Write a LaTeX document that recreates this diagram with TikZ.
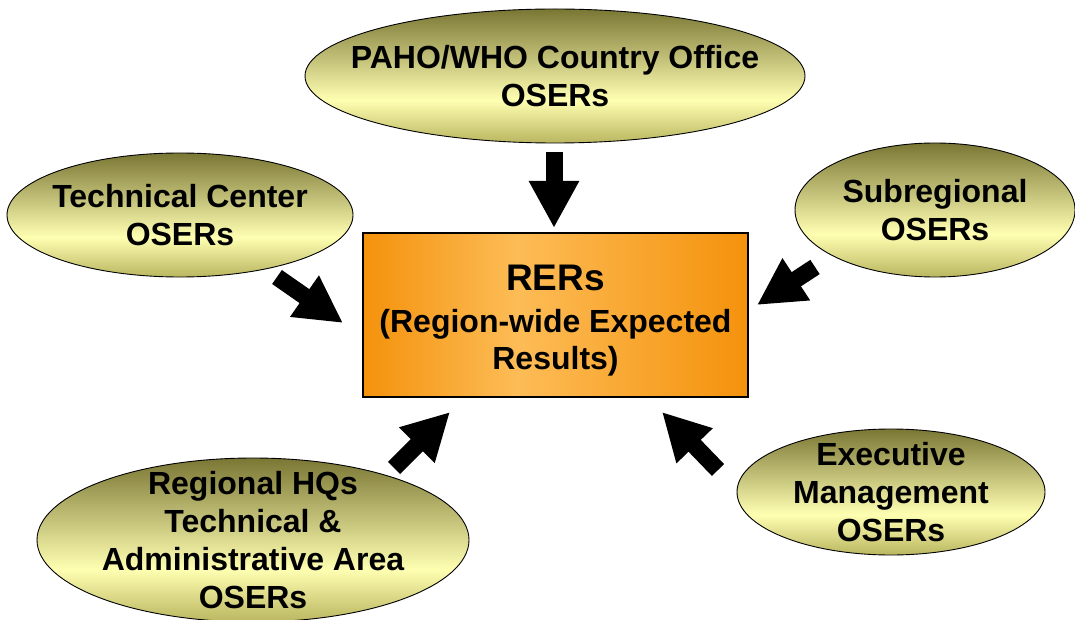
\documentclass[tikz,border=0pt]{standalone}
\usepackage{fontspec}
\setmainfont{Liberation Sans}
\usetikzlibrary{shapes.geometric,arrows.meta}

\definecolor{ostop}{RGB}{122,118,52}
\definecolor{oslight}{RGB}{255,255,178}
\definecolor{osbot}{RGB}{186,182,96}
\definecolor{rerdark}{RGB}{244,146,12}
\definecolor{rerlight}{RGB}{253,188,86}

\pgfdeclareverticalshading{oservert}{100bp}{color(0bp)=(osbot); color(25bp)=(osbot); color(41bp)=(oslight); color(75bp)=(ostop); color(100bp)=(ostop)}
\pgfdeclarehorizontalshading{rerhoriz}{100bp}{color(0bp)=(rerdark); color(25bp)=(rerdark); color(45bp)=(rerlight); color(75bp)=(rerdark); color(100bp)=(rerdark)}

\tikzset{
  oser/.style={ellipse, draw, line width=0.9pt, shading=oservert, inner sep=0pt},
  osertext/.style={align=center, font=\bfseries\fontsize{32}{38}\selectfont},
  blockarrow/.style={line width=17pt, -{Triangle[length=47pt,width=47pt]}}
}

\begin{document}
\begin{tikzpicture}[x=1pt, y=-1pt]
 \useasboundingbox (0,0) rectangle (1075,620);

 %central box
 \node[draw, line width=1.6pt, shading=rerhoriz, minimum width=385pt, minimum height=164pt,
       align=center, font=\bfseries\fontsize{32}{37}\selectfont] (rer) at (555.5,315)
       {{\fontsize{37}{42}\selectfont\rule{0pt}{37pt}RERs}\\[5pt](Region-wide Expected\\Results)};

 %ellipses
 \node[oser, minimum width=500pt, minimum height=134pt, label={[osertext]center:{PAHO/WHO Country Office\\OSERs}}] (pah) at (555,76) {};
 \node[oser, minimum width=346pt, minimum height=124pt, label={[osertext]center:{Technical Center\\OSERs}}] (tech) at (180,215) {};
 \node[oser, minimum width=280pt, minimum height=134pt, label={[osertext]center:{Subregional\\OSERs}}] (subr) at (935,210) {};
 \node[oser, minimum width=308pt, minimum height=126pt, label={[osertext]center:{Executive\\Management\\OSERs}}] (exec) at (891,492) {};
 \node[oser, minimum width=432pt, minimum height=164pt, label={[osertext]center:{Regional HQs\\Technical \&\\Administrative Area\\OSERs}}] (hq) at (253,540) {};

 %arrow ends
 \coordinate (pahs) at (554,152);  \coordinate (pahe) at (554,228);
 \coordinate (techs) at (277,277); \coordinate (teche) at (343,323);
 \coordinate (subrs) at (815,267); \coordinate (subre) at (757,305);
 \coordinate (hqs) at (394,468);   \coordinate (hqe) at (450,412);
 \coordinate (execs) at (718,470); \coordinate (exece) at (662,412);

 \foreach \name in {pah,tech,subr,hq,exec} {
   \draw[blockarrow] (\name s) -- (\name e);
 }
\end{tikzpicture}
\end{document}
